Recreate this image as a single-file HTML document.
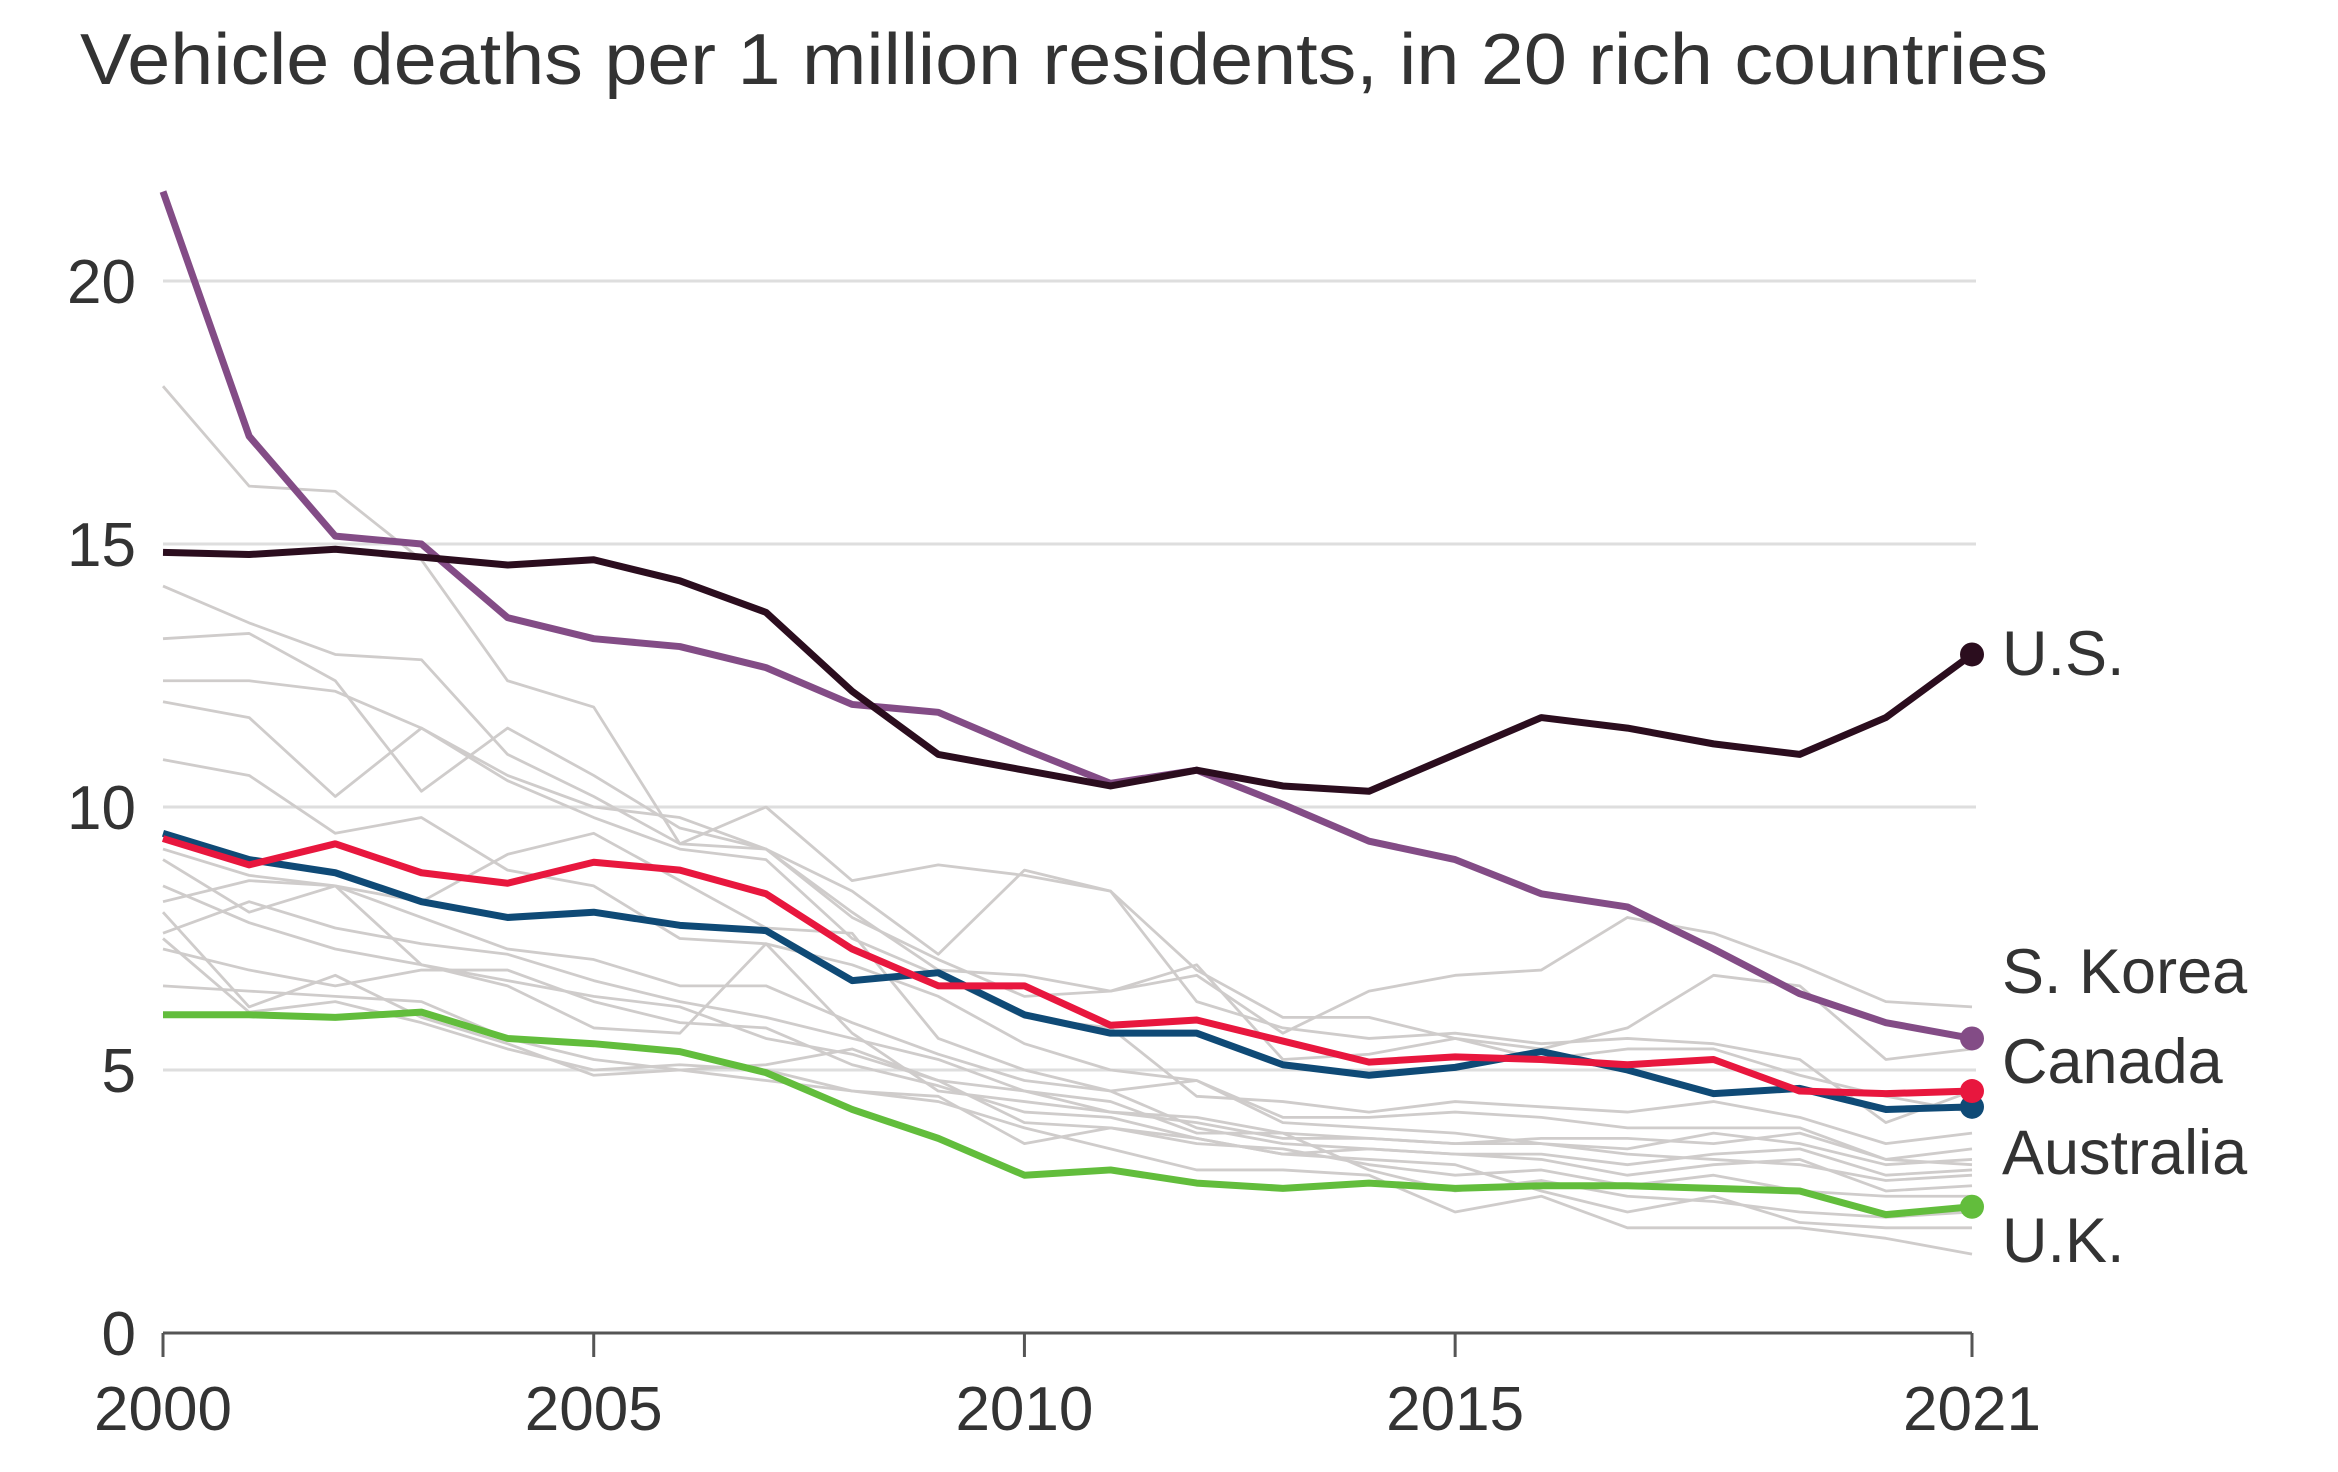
<!DOCTYPE html>
<html><head><meta charset="utf-8"><style>
html,body{margin:0;padding:0;background:#fff;}
svg{display:block;font-family:"Liberation Sans",sans-serif;}
</style></head><body>
<svg id="chart" width="2338" height="1472" viewBox="0 0 2338 1472" xmlns="http://www.w3.org/2000/svg">
<text x="80" y="84" font-size="72" fill="#333" textLength="1968" lengthAdjust="spacingAndGlyphs">Vehicle deaths per 1 million residents, in 20 rich countries</text>
<g id="grid"></g><g id="gray"></g><g id="hl"></g><g id="axis"></g>
</svg>
<script>
const years=[2000,2001,2002,2003,2004,2005,2006,2007,2008,2009,2010,2011,2012,2013,2014,2015,2016,2017,2018,2019,2020,2021];
const yTicks=[0,5,10,15,20];
const xTicks=[2000,2005,2010,2015,2021];
const usValues=[14.84,14.8,14.9,14.75,14.6,14.7,14.3,13.7,12.2,11.0,10.7,10.4,10.7,10.4,10.3,11.0,11.7,11.5,11.2,11.0,11.7,12.9];
const koreaValues=[21.7,17.05,15.15,15.0,13.6,13.2,13.05,12.65,11.95,11.8,11.1,10.45,10.7,10.05,9.35,9.0,8.35,8.1,7.3,6.45,5.9,5.6];
const canadaValues=[9.4,8.9,9.3,8.75,8.55,8.95,8.8,8.35,7.3,6.6,6.6,5.85,5.95,5.55,5.15,5.25,5.2,5.1,5.2,4.6,4.55,4.6];
const australiaValues=[9.5,9.0,8.75,8.2,7.9,8.0,7.75,7.65,6.7,6.85,6.05,5.7,5.7,5.1,4.9,5.05,5.35,5.0,4.55,4.65,4.25,4.3];
const ukValues=[6.05,6.05,6.0,6.1,5.6,5.5,5.35,4.95,4.25,3.7,3.0,3.1,2.85,2.75,2.85,2.75,2.8,2.8,2.75,2.7,2.25,2.4];
const otherCountries=[
[18.0,16.1,16.0,14.7,12.4,11.9,9.3,9.2,8.0,6.9,6.8,6.5,6.8,5.7,6.5,6.8,6.9,7.9,7.6,7.0,6.3,6.2],
[14.2,13.5,12.9,12.8,11.0,10.2,9.3,10.0,8.6,8.9,8.7,8.4,6.9,6.0,6.0,5.6,5.4,5.8,6.8,6.6,5.2,5.4],
[13.2,13.3,12.4,10.3,11.5,10.6,9.6,9.2,8.4,7.2,8.8,8.4,6.3,5.8,5.6,5.7,5.5,5.6,5.5,5.2,4.0,4.6],
[12.4,12.4,12.2,11.5,10.6,10.0,9.8,9.2,7.9,7.1,6.4,6.5,7.0,5.2,5.3,5.6,5.2,5.4,5.4,4.9,4.5,4.2],
[12.0,11.7,10.2,11.5,10.5,9.8,9.2,9.0,7.5,6.8,6.0,5.8,4.5,4.4,4.2,4.4,4.3,4.2,4.4,4.1,3.6,3.8],
[10.9,10.6,9.5,9.8,8.8,8.5,7.5,7.4,7.0,6.4,5.5,5.0,4.8,4.1,4.1,4.2,4.1,3.9,3.9,3.9,3.3,3.5],
[9.2,8.7,8.5,8.2,9.1,9.5,8.6,7.7,7.6,5.6,5.0,4.6,4.8,4.0,3.9,3.8,3.6,3.5,3.8,3.6,3.2,3.3],
[8.2,8.6,8.5,7.9,7.3,7.1,6.6,6.6,5.9,5.3,4.8,4.6,3.9,3.6,3.5,3.4,3.4,3.2,3.4,3.5,3.0,3.1],
[7.6,8.2,7.7,7.4,7.2,6.7,6.3,6.0,5.6,5.2,4.6,4.4,3.8,3.8,3.7,3.6,3.6,3.4,3.3,3.2,2.9,3.0],
[7.3,6.9,6.6,6.9,6.9,6.3,5.9,5.8,5.1,4.7,4.2,4.1,3.7,3.4,3.5,3.4,3.3,3.0,3.2,3.3,2.7,2.8],
[6.6,6.5,6.4,6.3,5.6,5.2,5.0,5.1,5.4,4.8,4.0,3.9,3.6,3.5,3.2,3.0,3.1,2.8,3.0,2.7,2.6,2.6],
[9.0,8.0,8.5,7.0,6.6,5.8,5.7,7.4,5.7,4.6,4.4,4.2,4.1,3.8,3.1,2.7,2.9,2.6,2.5,2.3,2.2,2.3],
[8.0,6.2,6.8,6.0,5.5,4.9,5.0,4.8,4.6,4.5,3.6,3.9,3.7,3.4,3.3,3.2,2.7,2.3,2.6,2.1,2.0,2.0],
[7.5,6.1,6.3,5.9,5.4,5.0,5.1,5.0,4.6,4.4,3.9,3.5,3.1,3.1,3.0,2.3,2.6,2.0,2.0,2.0,1.8,1.5],
[8.5,7.8,7.3,7.0,6.7,6.4,6.2,5.6,5.3,4.8,4.6,4.2,4.0,3.7,3.7,3.6,3.7,3.7,3.6,3.8,3.3,3.2]
];
const NS="http://www.w3.org/2000/svg";
const X0=163,X1=1972,Y0=1333,PER=52.6;
function xs(yr){return X0+(yr-2000)*(X1-X0)/21;}
function ys(v){return Y0-v*PER;}
function mk(tag,attrs,parent){const e=document.createElementNS(NS,tag);for(const k in attrs)e.setAttribute(k,attrs[k]);parent.appendChild(e);return e;}
const grid=document.getElementById('grid'),gray=document.getElementById('gray'),hl=document.getElementById('hl'),axis=document.getElementById('axis');
yTicks.forEach(t=>{
  if(t>0){const l=mk('line',{x1:X0,x2:1976,y1:ys(t),y2:ys(t),stroke:'#dedede','stroke-width':3},grid);
  
  }
  const tx=mk('text',{x:136,y:ys(t)+22,'font-size':62,fill:'#333','text-anchor':'end'},axis);
  tx.textContent=t;
  
  
});
const base=mk('line',{x1:X0,x2:X1,y1:Y0,y2:Y0,stroke:'#555','stroke-width':3},axis);


xTicks.forEach(t=>{
  const tk=mk('line',{x1:xs(t),x2:xs(t),y1:Y0,y2:Y0+24,stroke:'#555','stroke-width':3},axis);
  
  
  const tx=mk('text',{x:xs(t),y:1430,'font-size':62,fill:'#333','text-anchor':'middle'},axis);
  tx.textContent=t;
  
  
});
function pts(vals){return vals.map((v,i)=>xs(years[i])+','+ys(v)).join(' ');}
otherCountries.forEach((vals,i)=>{
  const p=mk('polyline',{points:pts(vals),fill:'none',stroke:'#cfcccb','stroke-width':2.8,'stroke-linejoin':'round'},gray);
  
  
});
const series=[
  {n:'uk',v:ukValues,c:'#62bd3c'},
  {n:'australia',v:australiaValues,c:'#0f4a76'},
  {n:'canada',v:canadaValues,c:'#e8173e'},
  {n:'south-korea',v:koreaValues,c:'#834c86'},
  {n:'us',v:usValues,c:'#2b0d1e'}
];
series.forEach(s=>{
  const p=mk('polyline',{points:pts(s.v),fill:'none',stroke:s.c,'stroke-width':7,'stroke-linejoin':'round'},hl);
  
  
  const d=mk('circle',{cx:xs(2021),cy:ys(s.v[s.v.length-1]),r:12,fill:s.c},hl);
  
  
});
const labels=[['U.S.',675],['S. Korea',993],['Canada',1083],['Australia',1174],['U.K.',1262]];
labels.forEach(l=>{
  const t=mk('text',{x:2002,y:l[1],'font-size':63,fill:'#333'},axis);
  t.textContent=l[0];
  
  
});
</script>
</body></html>
